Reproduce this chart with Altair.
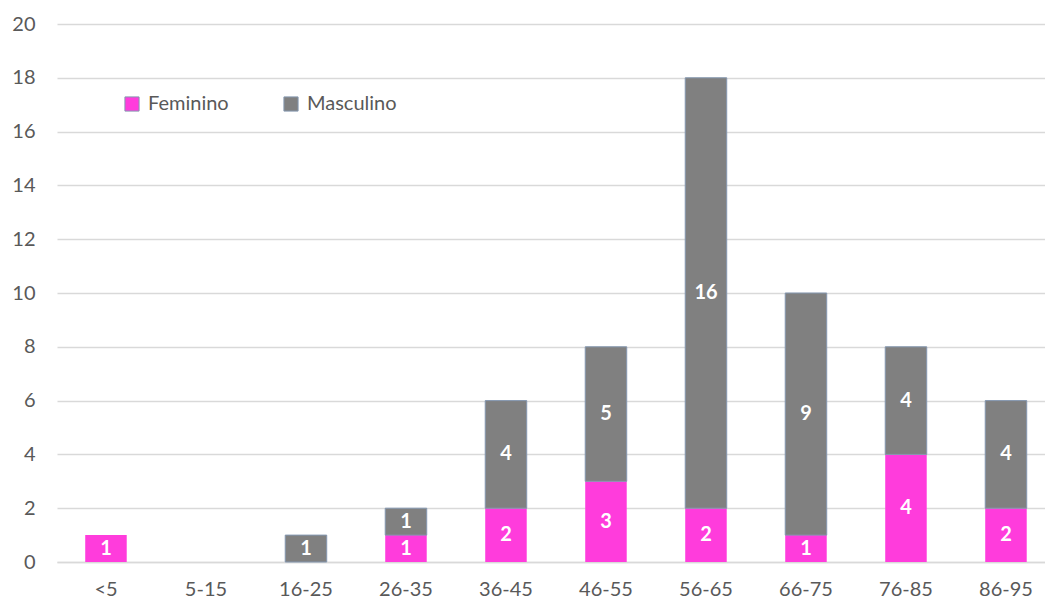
import altair as alt
import pandas as pd

# Age groups and counts per sex
age_groups = ["<5", "5-15", "16-25", "26-35", "36-45", "46-55", "56-65", "66-75", "76-85", "86-95"]
feminino = [1, 0, 0, 1, 2, 3, 2, 1, 4, 2]
masculino = [0, 0, 1, 1, 4, 5, 16, 9, 4, 4]
sexes = ["Feminino", "Masculino"]
colors = ["#FF3CDC", "#808080"]

rows = []
for i, g in enumerate(age_groups):
    rows.append({"faixa": g, "sexo": sexes[0], "n": feminino[i], "ordem": 0})
    rows.append({"faixa": g, "sexo": sexes[1], "n": masculino[i], "ordem": 1})
df = pd.DataFrame(rows)

FONT = "Lato"

base = alt.Chart(df).transform_stack(
    stack="n", groupby=["faixa"], as_=["y0", "y1"], sort=[alt.SortField("ordem", order="ascending")]
).transform_calculate(
    mid="(datum.y0 + datum.y1) / 2"
).transform_filter("datum.n > 0")

x_enc = alt.X(
    "faixa:N",
    title=None,
    scale=alt.Scale(domain=age_groups, paddingInner=0.585, paddingOuter=0.2325, align=0.607),
    axis=alt.Axis(
        labelAngle=0, labelFontSize=20, labelFont=FONT, labelColor="#595959",
        labelPadding=17, ticks=False, domain=True, domainColor="#D9D9D9", domainWidth=1.5,
        grid=False,
    ),
)

bars = base.mark_bar(stroke="#8497B0", strokeWidth=1).encode(
    x=x_enc,
    y=alt.Y(
        "y0:Q",
        title=None,
        scale=alt.Scale(domain=[0, 20], nice=False),
        axis=alt.Axis(
            values=list(range(0, 21, 2)), labelFontSize=20, labelFont=FONT,
            labelColor="#595959", labelPadding=22, ticks=False, domain=False,
            grid=True, gridColor="#D9D9D9", gridWidth=1.5,
        ),
    ),
    y2="y1:Q",
    color=alt.Color(
        "sexo:N",
        scale=alt.Scale(domain=sexes, range=colors),
        legend=alt.Legend(
            title=None, orient="none", direction="horizontal",
            legendX=65, legendY=70, labelFont=FONT, labelFontSize=20,
            labelColor="#595959", symbolType="square", symbolSize=200,
            symbolStrokeColor="#8497B0", symbolStrokeWidth=1,
            columnPadding=52, labelOffset=6, padding=0,
        ),
    ),
    strokeOpacity=alt.condition("datum.sexo == 'Masculino'", alt.value(1), alt.value(0)),
)

labels = base.mark_text(
    font=FONT, fontSize=20, fontWeight="bold", color="white", baseline="middle"
).encode(
    x=alt.X("faixa:N", scale=alt.Scale(domain=age_groups)),
    y=alt.Y("mid:Q"),
    text="n:Q",
)

chart = alt.layer(bars, labels).properties(
    width=988,
    height=538,
    autosize=alt.AutoSizeParams(type="none"),
    padding={"left": 57, "top": 24, "right": 0, "bottom": 41},
).configure(background="white").configure_view(stroke=None)

chart.save("out.html", embed_options={"renderer": "svg", "actions": False})
